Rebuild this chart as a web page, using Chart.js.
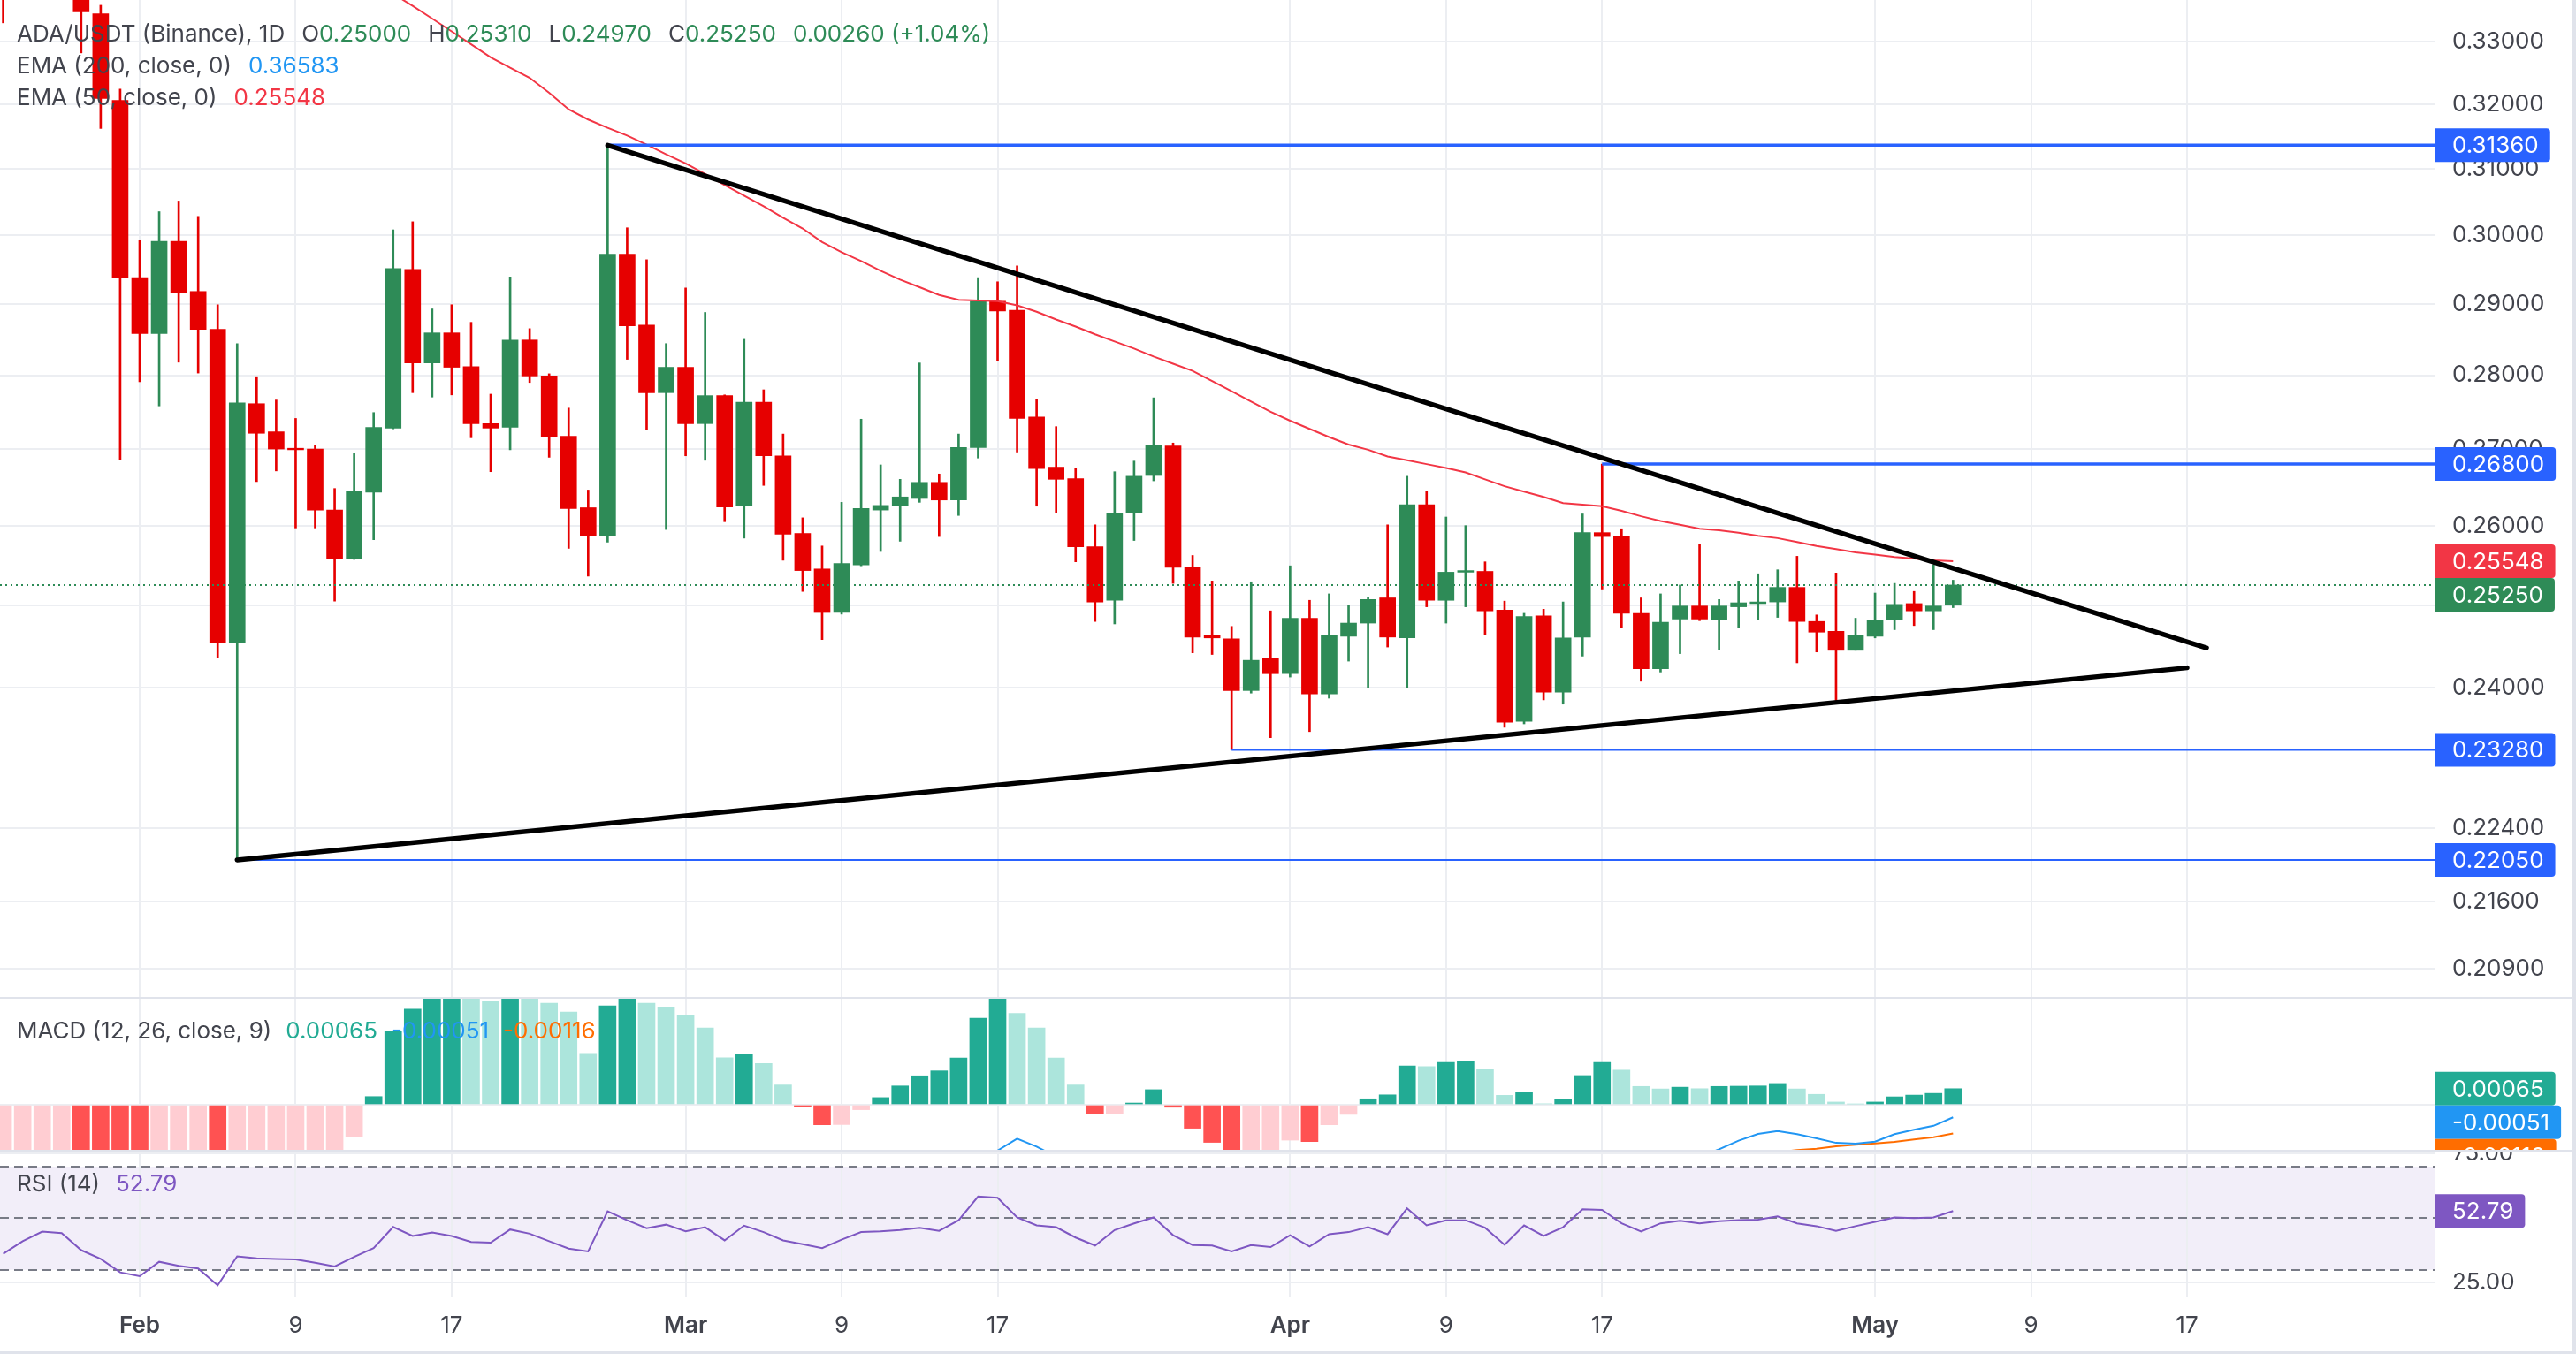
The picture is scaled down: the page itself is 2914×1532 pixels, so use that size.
<!DOCTYPE html>
<html>
<head>
<meta charset="utf-8">
<script src="https://cdn.jsdelivr.net/npm/chart.js@4.4.1/dist/chart.umd.min.js"></script>
<style>
  html, body { margin: 0; padding: 0; background: #fff; }
  body { width: 2914px; height: 1532px; position: relative; overflow: hidden; }
  canvas { position: absolute; left: 0; }
  .line { position: absolute; background: #e0e3eb; }
</style>
</head>
<body>
<canvas id="main" width="2914" height="1128" style="top:0"></canvas>
<canvas id="macd" width="2914" height="171" style="top:1130px"></canvas>
<canvas id="rsi" width="2914" height="229" style="top:1303px"></canvas>
<div class="line" style="left:0;top:1128px;width:2912px;height:2px"></div>
<div class="line" style="left:0;top:1301px;width:2912px;height:2px"></div>
<div class="line" style="left:2910px;top:0;width:4px;height:1532px"></div>
<div class="line" style="left:0;top:1529px;width:2914px;height:3px"></div>
<script>
// ADA/USDT daily candles, first one on 2026-01-25
const firstDate = '2026-01-25';
const open = [
  0.3500, 0.3430, 0.3480, 0.3410, 0.3425, 0.3346, 0.3206,
  0.2938, 0.2858, 0.2991, 0.2918, 0.2864, 0.2454, 0.2761, 0.2723, 0.2701, 0.2700,
  0.2620, 0.2558, 0.2643, 0.2728, 0.2950, 0.2817, 0.2859, 0.2812, 0.2734, 0.2729,
  0.2849, 0.2799, 0.2717, 0.2623, 0.2587, 0.2972, 0.2870, 0.2776, 0.2811, 0.2734,
  0.2772, 0.2625, 0.2763, 0.2691, 0.2590, 0.2545, 0.2491, 0.2550, 0.2620, 0.2626,
  0.2635, 0.2656, 0.2633, 0.2702, 0.2904, 0.2891, 0.2743, 0.2676, 0.2661, 0.2573,
  0.2506, 0.2616, 0.2665, 0.2704, 0.2547, 0.2463, 0.2459, 0.2397, 0.2435, 0.2417,
  0.2484, 0.2393, 0.2462, 0.2478, 0.2509, 0.2460, 0.2627, 0.2506, 0.2541, 0.2542,
  0.2494, 0.2361, 0.2487, 0.2395, 0.2461, 0.2591, 0.2586, 0.2490, 0.2423, 0.2483,
  0.2499, 0.2482, 0.2498, 0.2502, 0.2504, 0.2522, 0.2480, 0.2468, 0.2445, 0.2462,
  0.2482, 0.2502, 0.2493, 0.2500
];
const high = [
  0.3560, 0.3520, 0.3510, 0.3460, 0.3450, 0.3360, 0.3224,
  0.2992, 0.3035, 0.3051, 0.3028, 0.2899, 0.2844, 0.2798, 0.2766, 0.2741, 0.2705,
  0.2648, 0.2695, 0.2749, 0.3008, 0.3020, 0.2893, 0.2899, 0.2874, 0.2774, 0.2939,
  0.2865, 0.2802, 0.2755, 0.2646, 0.3136, 0.3011, 0.2964, 0.2844, 0.2923, 0.2888,
  0.2773, 0.2850, 0.2780, 0.2720, 0.2610, 0.2574, 0.2630, 0.2740, 0.2679, 0.2660,
  0.2817, 0.2667, 0.2720, 0.2938, 0.2932, 0.2955, 0.2767, 0.2730, 0.2675, 0.2601,
  0.2670, 0.2684, 0.2769, 0.2708, 0.2562, 0.2530, 0.2474, 0.2529, 0.2493, 0.2549,
  0.2506, 0.2514, 0.2500, 0.2510, 0.2601, 0.2664, 0.2645, 0.2611, 0.2600, 0.2554,
  0.2505, 0.2490, 0.2495, 0.2504, 0.2615, 0.2680, 0.2596, 0.2509, 0.2514, 0.2525,
  0.2576, 0.2507, 0.2530, 0.2539, 0.2544, 0.2561, 0.2488, 0.2540, 0.2484, 0.2515,
  0.2527, 0.2517, 0.2550, 0.2531
];
const low = [
  0.3331, 0.3390, 0.3380, 0.3375, 0.3282, 0.3162, 0.2686,
  0.2791, 0.2758, 0.2818, 0.2803, 0.2436, 0.2205, 0.2657, 0.2671, 0.2597, 0.2597,
  0.2505, 0.2557, 0.2582, 0.2727, 0.2776, 0.2770, 0.2773, 0.2715, 0.2670, 0.2699,
  0.2790, 0.2689, 0.2571, 0.2536, 0.2579, 0.2822, 0.2726, 0.2595, 0.2691, 0.2685,
  0.2605, 0.2584, 0.2652, 0.2556, 0.2517, 0.2458, 0.2489, 0.2549, 0.2567, 0.2580,
  0.2630, 0.2586, 0.2613, 0.2688, 0.2820, 0.2696, 0.2625, 0.2616, 0.2554, 0.2480,
  0.2477, 0.2581, 0.2658, 0.2527, 0.2442, 0.2440, 0.2328, 0.2394, 0.2342, 0.2413,
  0.2349, 0.2388, 0.2432, 0.2400, 0.2449, 0.2400, 0.2498, 0.2478, 0.2498, 0.2464,
  0.2354, 0.2358, 0.2386, 0.2381, 0.2438, 0.2520, 0.2473, 0.2408, 0.2419, 0.2441,
  0.2481, 0.2446, 0.2472, 0.2482, 0.2485, 0.2430, 0.2443, 0.2383, 0.2445, 0.2460,
  0.2470, 0.2475, 0.2470, 0.2497
];
const close = [
  0.3430, 0.3480, 0.3410, 0.3425, 0.3349, 0.3209, 0.2938,
  0.2858, 0.2991, 0.2917, 0.2864, 0.2454, 0.2762, 0.2721, 0.2700, 0.2699, 0.2620,
  0.2558, 0.2644, 0.2729, 0.2951, 0.2817, 0.2859, 0.2811, 0.2734, 0.2728, 0.2849,
  0.2799, 0.2716, 0.2622, 0.2587, 0.2972, 0.2869, 0.2776, 0.2811, 0.2734, 0.2772,
  0.2624, 0.2763, 0.2691, 0.2589, 0.2543, 0.2491, 0.2552, 0.2622, 0.2626, 0.2637,
  0.2656, 0.2633, 0.2702, 0.2904, 0.2890, 0.2741, 0.2674, 0.2660, 0.2573, 0.2504,
  0.2616, 0.2664, 0.2705, 0.2547, 0.2461, 0.2460, 0.2397, 0.2433, 0.2417, 0.2484,
  0.2393, 0.2463, 0.2478, 0.2507, 0.2461, 0.2627, 0.2506, 0.2541, 0.2543, 0.2493,
  0.2360, 0.2486, 0.2395, 0.2460, 0.2591, 0.2586, 0.2490, 0.2423, 0.2479, 0.2499,
  0.2483, 0.2499, 0.2503, 0.2504, 0.2522, 0.2480, 0.2467, 0.2445, 0.2463, 0.2482,
  0.2501, 0.2493, 0.2499, 0.2525
];
const ema50 = [
  null, null, null, null, null, null, null, null, null, null, null, null, null, null, null, null, null,
  0.3445, 0.3422, 0.3400, 0.3379, 0.3359, 0.3338, 0.3317, 0.3296, 0.3275, 0.3258,
  0.3242, 0.3218, 0.3192, 0.3176, 0.3163, 0.3151, 0.3137, 0.3122, 0.3108, 0.3092,
  0.3075, 0.3059, 0.3043, 0.3026, 0.3010, 0.2990, 0.2975, 0.2962, 0.2948, 0.2935,
  0.2924, 0.2913, 0.2906, 0.2905, 0.2904, 0.2898, 0.2889, 0.2878, 0.2868, 0.2857,
  0.2847, 0.2837, 0.2826, 0.2816, 0.2806, 0.2792, 0.2778, 0.2764, 0.2750, 0.2738,
  0.2727, 0.2716, 0.2706, 0.2699, 0.2690, 0.2685, 0.2680, 0.2675, 0.2669, 0.2660,
  0.2651, 0.2644, 0.2637, 0.2629, 0.2627, 0.2625, 0.2619, 0.2612, 0.2606, 0.2601,
  0.2596, 0.2594, 0.2591, 0.2587, 0.2584, 0.2579, 0.2574, 0.2570, 0.2566, 0.2563,
  0.2560, 0.2558, 0.2556, 0.25548
];
const ema200Last = 0.36583;

const macdHist = [
  -0.0040, -0.0038, -0.0036, -0.0035, -0.0038, -0.0043, -0.0052,
  -0.0058, -0.0056, -0.0054, -0.0051, -0.0060, -0.0052, -0.0045, -0.0039, -0.0033, -0.0027,
  -0.0020, -0.00128, 0.00033, 0.00295, 0.00386, 0.0046, 0.0049, 0.0047, 0.00417, 0.0046,
  0.0044, 0.0041, 0.00375, 0.00208, 0.0040, 0.0045, 0.0041, 0.00395, 0.00363, 0.0031,
  0.0019, 0.00205, 0.00167, 0.0008, -0.00007, -0.00081, -0.0008, -0.0002, 0.00029, 0.00076,
  0.00117, 0.00137, 0.00189, 0.0035, 0.0045, 0.00369, 0.0031, 0.00189, 0.0008, -0.00038,
  -0.00036, 0.00007, 0.00061, -0.0001, -0.00095, -0.00152, -0.0021, -0.0020, -0.0019, -0.00143,
  -0.00149, -0.00081, -0.00039, 0.00024, 0.0004, 0.00157, 0.00154, 0.00171, 0.00175, 0.00145,
  0.00038, 0.0005, 0.00004, 0.00021, 0.00118, 0.00171, 0.0014, 0.00074, 0.00064, 0.00071,
  0.00065, 0.00074, 0.00075, 0.00076, 0.00086, 0.00064, 0.00042, 0.00011, 0.00003, 0.00011,
  0.00032, 0.00039, 0.00046, 0.00065
];
// MACD and signal only where they come into the pane
const macdLine = [
  ...Array(49).fill(null),
  -0.0030, -0.0024, -0.00185, -0.00137, -0.00169, -0.0021, -0.0027,
  ...Array(29).fill(null),
  -0.0030, -0.0025, -0.0021, -0.0018, -0.00145, -0.00118, -0.00106, -0.00119,
  -0.00136, -0.00154, -0.00157, -0.00149, -0.00119, -0.00101, -0.00085, -0.00051
];
const macdSignal = [
  ...Array(85).fill(null),
  -0.0036, -0.0032, -0.0028, -0.0025, -0.0022, -0.00195, -0.00192, -0.00183,
  -0.00178, -0.00168, -0.00162, -0.00156, -0.0015, -0.0014, -0.00131, -0.00116
];
const rsi14 = [
  36.2, 41.1, 44.8, 44.2, 37.6, 34.2, 29.0,
  27.5, 33.1, 31.5, 30.5, 24.0, 35.2, 34.4, 34.2, 34.0, 32.7,
  31.3, 35.0, 38.4, 46.6, 43.1, 44.5, 43.1, 40.8, 40.5, 45.6,
  44.0, 41.1, 38.2, 37.1, 52.7, 49.2, 46.1, 47.5, 44.9, 46.5,
  41.4, 47.1, 44.6, 41.4, 39.9, 38.4, 41.7, 44.6, 44.9, 45.4,
  46.3, 45.1, 49.2, 58.4, 57.9, 50.3, 47.2, 46.5, 42.5, 39.4,
  45.4, 48.0, 50.3, 43.4, 39.6, 39.4, 37.1, 39.6, 38.8, 43.4,
  39.0, 43.8, 44.6, 46.5, 43.8, 53.8, 47.2, 49.2, 49.2, 46.3,
  39.7, 47.2, 43.1, 46.5, 53.5, 53.2, 48.0, 44.8, 48.0, 49.0,
  48.0, 48.8, 49.3, 49.4, 50.7, 48.0, 46.9, 45.1, 46.9, 48.6,
  50.3, 50.0, 50.3, 52.79
];

const priceTicks = [0.33, 0.32, 0.31, 0.30, 0.29, 0.28, 0.27, 0.26, 0.25, 0.24, 0.224, 0.216, 0.209];
const rsiTicks = [75, 25];
const rsiLevels = [70, 50, 30];
const timeTickDates = ['2026-02-01', '2026-02-09', '2026-02-17', '2026-03-01', '2026-03-09', '2026-03-17',
                       '2026-04-01', '2026-04-09', '2026-04-17', '2026-05-01', '2026-05-09', '2026-05-17'];
const timeTickLabels = ['Feb', '9', '17', 'Mar', '9', '17', 'Apr', '9', '17', 'May', '9', '17'];
const monthLabels = ['Feb', 'Mar', 'Apr', 'May'];

// drawn levels and triangle
const levelPrices = [0.3136, 0.268, 0.2328, 0.2205];
const levelStarts = ['2026-02-25', '2026-04-17', '2026-03-29', '2026-02-06'];
const upperTrendDates = ['2026-02-25', '2026-05-18'];
const upperTrendPrices = [0.3136, 0.2448];
const lowerTrendDates = ['2026-02-06', '2026-05-17'];
const lowerTrendPrices = [0.2205, 0.2424];

// ---------------------------------------------------------------
const FONT = 'Inter, "Noto Sans", sans-serif';
const TXT = '#42444d';
const GRID = '#eceef2';
const UP = '#2e8b57', DOWN = '#e60000';
const BLUE = '#2962ff';
const AXIS_W = 159;
const X_MIN = -7.163, X_MAX = 117.74;

Chart.defaults.font.family = FONT;
Chart.defaults.color = TXT;

const origin = Date.parse('2026-02-01T00:00:00Z');
const dayOf = s => (Date.parse(s + 'T00:00:00Z') - origin) / 86400000;
const first = dayOf(firstDate);
const xs = open.map((_, i) => first + i);
const last = close.length - 1;
const tickDays = timeTickDates.map(dayOf);

function xScale(labels) {
  return {
    type: 'linear', min: X_MIN, max: X_MAX, offset: false,
    afterBuildTicks: s => { s.ticks = tickDays.map(v => ({ value: v })); },
    afterFit: s => { s.height = labels ? 64 : 0; s.paddingLeft = 0; s.paddingRight = 0; },
    grid: { color: GRID, lineWidth: 2, drawTicks: false, offset: false },
    border: { display: false },
    ticks: {
      display: labels, autoSkip: false, maxRotation: 0, padding: 17, color: TXT,
      callback: (v, i) => timeTickLabels[i],
      font: c => ({ family: FONT, size: 26,
        weight: c.tick && monthLabels.includes(timeTickLabels[tickDays.indexOf(c.tick.value)]) ? '600' : '400' })
    }
  };
}

function yFit(s) { s.width = AXIS_W; s.paddingTop = 0; s.paddingBottom = 0; }

function drawTags(chart, scaleId, tags) {
  const ctx = chart.ctx, sc = chart.scales[scaleId], left = chart.chartArea.right;
  ctx.save();
  ctx.font = '26px ' + FONT;
  const items = tags.map(t => ({ ...t, y: sc.getPixelForValue(t.value) })).sort((a, b) => a.y - b.y);
  let prevBottom = -1e9;
  for (const it of items) {
    let top = it.y - 19;
    if (top < prevBottom) top = prevBottom;
    prevBottom = top + 38;
    const w = 19 + ctx.measureText(it.text).width + 13;
    ctx.fillStyle = it.color;
    ctx.beginPath();
    ctx.roundRect(left, top, w, 38, [0, 4, 4, 0]);
    ctx.fill();
    ctx.fillStyle = '#fff';
    ctx.textBaseline = 'middle';
    ctx.fillText(it.text, left + 19, top + 20);
  }
  ctx.restore();
}

function drawRuns(ctx, x, baseline, runs) {
  ctx.save();
  ctx.font = '26px ' + FONT;
  ctx.textBaseline = 'alphabetic';
  for (const [text, color, gap] of runs) {
    x += gap || 0;
    ctx.fillStyle = color;
    ctx.fillText(text, x, baseline);
    x += ctx.measureText(text).width;
  }
  ctx.restore();
}

const noUi = { legend: { display: false }, tooltip: { enabled: false } };

// ---------------- price pane ----------------
const candleColors = open.map((o, i) => close[i] >= o ? UP : DOWN);
const lineDs = (label, pts, color, width, order, extra) => Object.assign({
  type: 'line', label, data: pts, borderColor: color, borderWidth: width,
  pointRadius: 0, tension: 0, order, clip: 0, spanGaps: false
}, extra || {});

const levelDs = levelPrices.map((p, i) => lineDs('level ' + p,
  [{ x: dayOf(levelStarts[i]), y: p }, { x: X_MAX, y: p }], BLUE, i < 2 ? 3.5 : 2, 1));

const mainOverlay = {
  id: 'mainOverlay',
  afterDraw(chart) {
    const chg = close[last] - close[last - 1];
    const tags = levelPrices.map(p => ({ value: p, text: p.toFixed(5), color: BLUE }));
    tags.push({ value: ema50[last], text: ema50[last].toFixed(5), color: '#f23645' });
    tags.push({ value: close[last], text: close[last].toFixed(5), color: UP });
    drawTags(chart, 'y', tags);
    const ctx = chart.ctx;
    drawRuns(ctx, 19, 47, [
      ['ADA/USDT (Binance), 1D', TXT],
      ['O', TXT, 19], [open[last].toFixed(5), UP],
      ['H', TXT, 19], [high[last].toFixed(5), UP],
      ['L', TXT, 19], [low[last].toFixed(5), UP],
      ['C', TXT, 19], [close[last].toFixed(5), UP],
      [chg.toFixed(5) + ' (+' + (chg / close[last - 1] * 100).toFixed(2) + '%)', UP, 19]
    ]);
    drawRuns(ctx, 19, 83, [['EMA (200, close, 0)', TXT], [ema200Last.toFixed(5), '#2196f3', 19]]);
    drawRuns(ctx, 19, 119, [['EMA (50, close, 0)', TXT], [ema50[last].toFixed(5), '#f23645', 19]]);
  }
};

new Chart(document.getElementById('main'), {
  type: 'bar',
  data: {
    datasets: [
      { label: 'wick', data: xs.map((x, i) => ({ x, y: [low[i], high[i]] })), backgroundColor: candleColors,
        barThickness: 2, grouped: false, order: 5 },
      { label: 'body', data: xs.map((x, i) => ({ x, y: [open[i], close[i]] })), backgroundColor: candleColors,
        barThickness: 18, grouped: false, order: 4 },
      lineDs('EMA 50', xs.map((x, i) => ({ x, y: ema50[i] })), '#f23645', 2, 3),
      lineDs('last', [{ x: X_MIN, y: close[last] }, { x: X_MAX, y: close[last] }], UP, 2, 3, { borderDash: [2, 4] }),
      ...levelDs,
      lineDs('upper', upperTrendDates.map((d, i) => ({ x: dayOf(d), y: upperTrendPrices[i] })), '#000', 5.5, 0,
        { borderCapStyle: 'round' }),
      lineDs('lower', lowerTrendDates.map((d, i) => ({ x: dayOf(d), y: lowerTrendPrices[i] })), '#000', 5.5, 0,
        { borderCapStyle: 'round' })
    ]
  },
  options: {
    responsive: false, animation: false, events: [],
    layout: { padding: 0 },
    plugins: noUi,
    scales: {
      x: xScale(false),
      y: {
        type: 'logarithmic', position: 'right', min: 0.20611, max: 0.33687,
        afterBuildTicks: s => { s.ticks = priceTicks.map(v => ({ value: v })); },
        afterFit: yFit,
        grid: { color: GRID, lineWidth: 2, drawTicks: false },
        border: { display: false },
        ticks: { autoSkip: false, padding: 19, color: TXT, font: { size: 26 },
          callback: v => Number(v).toFixed(5) }
      }
    }
  },
  plugins: [mainOverlay]
});

// ---------------- MACD pane ----------------
const histColors = macdHist.map((v, i) => {
  const prev = i > 0 ? macdHist[i - 1] : v;
  if (v >= 0) return v >= prev ? '#22ab94' : '#ace5dc';
  return v < prev ? '#ff5252' : '#ffcdd2';
});

const macdOverlay = {
  id: 'macdOverlay',
  afterDraw(chart) {
    drawTags(chart, 'y', [
      { value: macdHist[last], text: macdHist[last].toFixed(5), color: '#22ab94' },
      { value: macdLine[last], text: macdLine[last].toFixed(5), color: '#2196f3' },
      { value: macdSignal[last], text: macdSignal[last].toFixed(5), color: '#ff6d00' }
    ]);
    drawRuns(chart.ctx, 19, 45, [
      ['MACD (12, 26, close, 9)', TXT],
      [macdHist[last].toFixed(5), '#22ab94', 16],
      [macdLine[last].toFixed(5), '#2196f3', 16],
      [macdSignal[last].toFixed(5), '#ff6d00', 16]
    ]);
  }
};

new Chart(document.getElementById('macd'), {
  type: 'bar',
  data: {
    datasets: [
      { label: 'Histogram', data: xs.map((x, i) => ({ x, y: macdHist[i] })), backgroundColor: histColors,
        barThickness: 19, grouped: false, order: 3 },
      lineDs('MACD', xs.map((x, i) => ({ x, y: macdLine[i] })), '#2196f3', 2, 1),
      lineDs('Signal', xs.map((x, i) => ({ x, y: macdSignal[i] })), '#ff6d00', 2, 2)
    ]
  },
  options: {
    responsive: false, animation: false, events: [],
    layout: { padding: 0 },
    plugins: noUi,
    scales: {
      x: xScale(false),
      y: {
        type: 'linear', position: 'right', min: -0.0018214, max: 0.0042857,
        afterBuildTicks: s => { s.ticks = [{ value: 0 }]; },
        afterFit: yFit,
        grid: { color: GRID, lineWidth: 2, drawTicks: false },
        border: { display: false },
        ticks: { display: false }
      }
    }
  },
  plugins: [macdOverlay]
});

// ---------------- RSI pane ----------------
const rsiOverlay = {
  id: 'rsiOverlay',
  beforeDraw(chart) {
    const { ctx, chartArea: a } = chart, y = chart.scales.y;
    const t = y.getPixelForValue(rsiLevels[0]), b = y.getPixelForValue(rsiLevels[2]);
    ctx.save();
    ctx.fillStyle = 'rgba(126, 87, 194, 0.1)';
    ctx.fillRect(a.left, t, a.right - a.left, b - t);
    ctx.restore();
  },
  beforeDatasetsDraw(chart) {
    const { ctx, chartArea: a } = chart, y = chart.scales.y;
    ctx.save();
    ctx.strokeStyle = '#787b86';
    ctx.lineWidth = 2;
    ctx.setLineDash([10, 6]);
    for (const lv of rsiLevels) {
      const py = Math.round(y.getPixelForValue(lv));
      ctx.beginPath();
      ctx.moveTo(a.left, py);
      ctx.lineTo(a.right, py);
      ctx.stroke();
    }
    ctx.restore();
  },
  afterDraw(chart) {
    drawTags(chart, 'y', [{ value: rsi14[last], text: rsi14[last].toFixed(2), color: '#7e57c2' }]);
    drawRuns(chart.ctx, 19, 45, [['RSI (14)', TXT], [rsi14[last].toFixed(2), '#7e57c2', 18]]);
  }
};

new Chart(document.getElementById('rsi'), {
  type: 'line',
  data: {
    datasets: [lineDs('RSI', xs.map((x, i) => ({ x, y: rsi14[i] })), '#7e57c2', 2, 1)]
  },
  options: {
    responsive: false, animation: false, events: [],
    layout: { padding: 0 },
    plugins: noUi,
    scales: {
      x: xScale(true),
      y: {
        type: 'linear', position: 'right', min: 19.27, max: 75.83,
        afterBuildTicks: s => { s.ticks = rsiTicks.map(v => ({ value: v })); },
        afterFit: yFit,
        grid: { color: GRID, lineWidth: 2, drawTicks: false },
        border: { display: false },
        ticks: { autoSkip: false, padding: 19, color: TXT, font: { size: 26 },
          callback: v => Number(v).toFixed(2) }
      }
    }
  },
  plugins: [rsiOverlay]
});
</script>
</body>
</html>
